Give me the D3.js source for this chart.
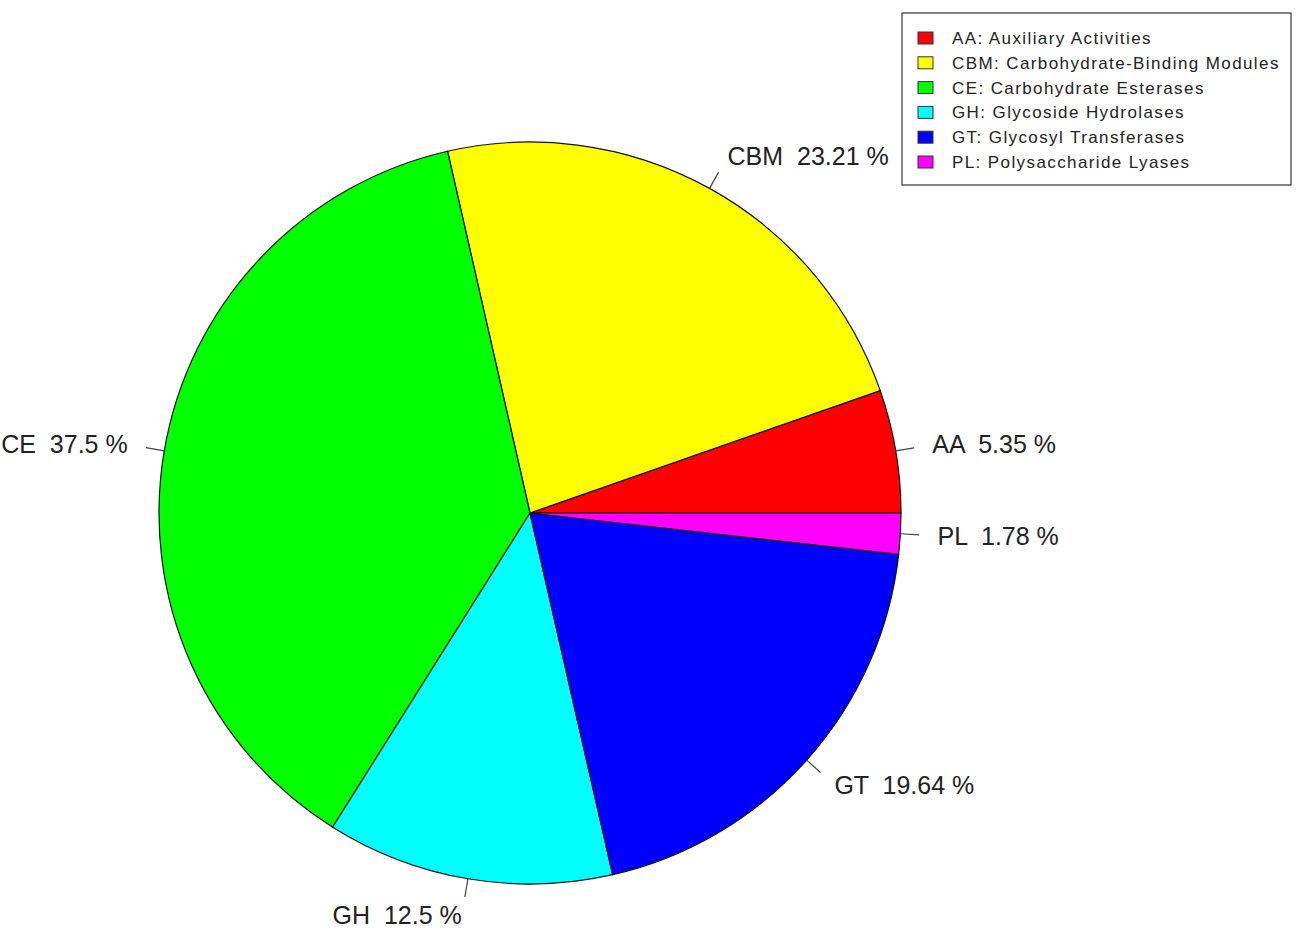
<!DOCTYPE html>
<html>
<head>
<meta charset="utf-8">
<script src="https://cdn.jsdelivr.net/npm/d3@7"></script>
<style>
  body { margin: 0; background: #fff; }
  text { font-family: "Liberation Sans", Arial, sans-serif; fill: #222; }
</style>
</head>
<body>
<div id="chart"></div>
<script>
// data
const codes = ['AA', 'CBM', 'CE', 'GH', 'GT', 'PL'];
const names = ['Auxiliary Activities', 'Carbohydrate-Binding Modules', 'Carbohydrate Esterases',
               'Glycoside Hydrolases', 'Glycosyl Transferases', 'Polysaccharide Lyases'];
const percents = [5.35, 23.21, 37.5, 12.5, 19.64, 1.78];
const colors = ['#ff0000', '#ffff00', '#00ff00', '#00ffff', '#0000ff', '#ff00ff'];

const w = 1299, h = 933,
      cx = 530, cy = 513, r = 371;

const svg = d3.select('#chart').append('svg')
    .attr('width', w)
    .attr('height', h);

// R style pie: starts at 3 o'clock, goes counter-clockwise
const total = d3.sum(percents);
const angle = d3.scaleLinear().domain([0, total]).range([0, 2 * Math.PI]);
let cum = 0;
const slices = percents.map((v, i) => {
    const s = { i: i, start: angle(cum), end: angle(cum + v) };
    cum += v;
    return s;
});

// convert R angle to d3 arc angle (0 = 12 o'clock, clockwise)
const toD3 = a => Math.PI / 2 - a;
const arc = d3.arc().innerRadius(0).outerRadius(r);

const g = svg.append('g').attr('transform', 'translate(' + cx + ',' + cy + ')');

g.selectAll('path')
    .data(slices)
    .enter()
    .append('path')
    .attr('d', d => arc({ startAngle: toD3(d.end), endAngle: toD3(d.start) }))
    .attr('fill', d => colors[d.i])
    .attr('stroke', '#111')
    .attr('stroke-width', 1.2);

// label ticks and labels
slices.forEach(d => {
    const mid = (d.start + d.end) / 2;
    const c = Math.cos(mid), s = Math.sin(mid);
    g.append('line')
        .attr('x1', r * c).attr('y1', -r * s)
        .attr('x2', 1.05 * r * c).attr('y2', -1.05 * r * s)
        .attr('stroke', '#444')
        .attr('stroke-width', 1.2);
    g.append('text')
        .attr('x', 1.1 * r * c)
        .attr('y', -1.1 * r * s)
        .attr('dy', '0.35em')
        .attr('text-anchor', c >= 0 ? 'start' : 'end')
        .style('font-size', '25px')
        .text(codes[d.i] + '  ' + percents[d.i] + ' %')
        .attr('xml:space', 'preserve');
});

// legend
const lg = svg.append('g');
lg.append('rect')
    .attr('x', 902).attr('y', 13)
    .attr('width', 389).attr('height', 172)
    .attr('fill', '#fff')
    .attr('stroke', '#333')
    .attr('stroke-width', 1.2);

const rowY = d3.scaleLinear().domain([0, 5]).range([38, 162]);

lg.selectAll('.key')
    .data(codes)
    .enter()
    .append('rect')
    .attr('x', 918)
    .attr('y', (d, i) => rowY(i) - 6)
    .attr('width', 15)
    .attr('height', 12)
    .attr('fill', (d, i) => colors[i])
    .attr('stroke', '#333')
    .attr('stroke-width', 1);

lg.selectAll('.lab')
    .data(codes)
    .enter()
    .append('text')
    .attr('x', 952)
    .attr('y', (d, i) => rowY(i))
    .attr('dy', '0.35em')
    .style('font-size', '17px')
    .style('letter-spacing', '1.4px')
    .text((d, i) => d + ': ' + names[i]);
</script>
</body>
</html>
